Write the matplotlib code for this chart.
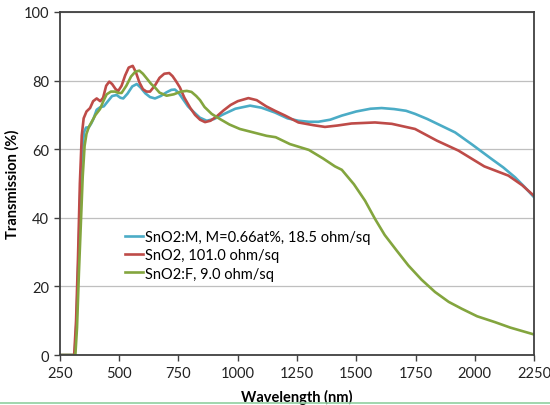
import matplotlib
matplotlib.use('Agg')
import matplotlib.pyplot as plt
from matplotlib.lines import Line2D

plt.rcParams['font.family'] = ['Lato', 'DejaVu Sans']

# SnO2:M, M=0.66at%, 18.5 ohm/sq
wl_m = [250, 312, 320, 328, 336, 344, 352, 360, 372, 382, 391, 405, 419, 435, 450,
        470, 489, 505, 517, 535, 555, 574, 590, 610, 630, 651, 675, 700, 720, 735,
        750, 770, 790, 812, 840, 869, 900, 940, 990, 1052, 1100, 1157, 1210, 1256,
        1300, 1340, 1390, 1439, 1500, 1560, 1607, 1660, 1710, 1748, 1800, 1860,
        1917, 1990, 2072, 2120, 2170, 2210, 2250]
t_m = [0, 0, 10, 28, 48, 60, 65, 66.3, 66.4, 67.5, 68.8, 71.5, 72.2, 72.5, 73.8,
       75.5, 75.8, 75, 74.8, 76.2, 78.3, 79, 78, 76.3, 75.2, 74.8, 75.5, 76.6, 77.3, 77.4,
       76.5, 74.5, 72.5, 71, 69.2, 68.3, 68.8, 70.2, 71.8, 72.7, 72.1, 70.7, 69, 68.3,
       68, 68, 68.6, 69.8, 71, 71.8, 72, 71.7, 71.2, 70.3, 68.8, 66.8,
       64.9, 61.3, 57.1, 54.7, 51.8, 49, 46]

# SnO2, 101.0 ohm/sq
wl_u = [250, 310, 318, 326, 334, 342, 350, 362, 377, 390, 405, 420, 432, 445, 458,
        470, 485, 496, 510, 525, 540, 557, 570, 585, 600, 615, 630, 650, 670, 690,
        711, 725, 740, 756, 775, 800, 820, 841, 862, 885, 910, 940, 970, 1000, 1045,
        1080, 1120, 1157, 1200, 1256, 1320, 1368, 1420, 1480, 1579, 1650, 1748,
        1840, 1931, 2040, 2142, 2200, 2250]
t_u = [0, 0, 10, 28, 50, 64, 69, 71, 72, 74, 74.8, 74, 75, 78.5, 79.7,
       79, 77.5, 77, 78.5, 81.5, 83.8, 84.3, 82.5, 79.5, 77.5, 76.8, 76.8, 78.5, 80.8, 82,
       82.2, 81.3, 79.8, 78, 75, 72, 70, 68.6, 67.9, 68.3, 69.5, 71.3, 72.9, 74, 74.9,
       74.3, 72.5, 71.2, 69.8, 67.8, 67, 66.5, 66.9, 67.5, 67.8, 67.4, 65.9,
       62.5, 59.6, 55, 52.3, 49.5, 46.4]

# SnO2:F, 9.0 ohm/sq
wl_f = [250, 315, 322, 330, 338, 346, 354, 362, 372, 384, 400, 419, 433, 447, 465,
        482, 497, 510, 530, 550, 568, 585, 600, 620, 635, 651, 670, 700, 730, 760,
        785, 805, 825, 841, 860, 890, 925, 965, 1009, 1060, 1122, 1160, 1220, 1300,
        1360, 1410, 1439, 1490, 1537, 1579, 1620, 1670, 1720, 1775, 1832, 1890,
        1945, 2010, 2085, 2150, 2200, 2250]
t_f = [0, 0, 8, 24, 38, 52, 61, 64.5, 66.5, 68, 70, 71.7, 74, 76, 76.8,
       76.8, 76.4, 76.4, 78.5, 81.2, 82.6, 82.9, 82, 80.3, 79, 78, 76.5, 75.6, 76, 76.8,
       77, 76.7, 75.5, 74.3, 72.3, 70.3, 68.8, 67.2, 65.9, 65, 63.9, 63.5, 61.5, 59.8,
       57.3, 55, 54, 49.8, 45, 39.7, 35, 30.5, 26.1, 22, 18.4, 15.5,
       13.5, 11.3, 9.6, 8, 7, 6]

labels = ['SnO2:M, M=0.66at%, 18.5 ohm/sq', 'SnO2, 101.0 ohm/sq', 'SnO2:F, 9.0 ohm/sq']
colors = ['#4BACC6', '#BE4B48', '#83A53E']
x_ticks = [250, 500, 750, 1000, 1250, 1500, 1750, 2000, 2250]
y_ticks = [0, 20, 40, 60, 80, 100]

fig = plt.figure(figsize=(5.5, 4.06), dpi=100)
ax = fig.add_axes([0.109, 0.123, 0.862, 0.845])

for wl, t, lab, col in zip([wl_m, wl_u, wl_f], [t_m, t_u, t_f], labels, colors):
    ax.plot(wl, t, color=col, lw=1.9, label=lab)

ax.set_xlim(250, 2250)
ax.set_ylim(0, 100)
ax.set_xticks(x_ticks)
ax.set_yticks(y_ticks)
ax.grid(axis='y', color='#BFBFBF', lw=0.9)
ax.set_axisbelow(True)
for s in ax.spines.values():
    s.set_color('#404040')
    s.set_linewidth(1.3)
ax.tick_params(direction='out', length=4, width=1, color='#404040',
               labelsize=10.5, labelcolor='#222222', pad=4)

ax.set_xlabel('Wavelength (nm)', fontsize=10.5, fontweight='bold', labelpad=6)
ax.set_ylabel('Transmission (%)', fontsize=10.5, fontweight='bold', labelpad=3)

ax.legend(loc='upper left', bbox_to_anchor=(0.137, 0.365), frameon=False,
          fontsize=10.5, handlelength=1.25, handletextpad=0.1, borderpad=0,
          labelspacing=0.3, borderaxespad=0)

# thin green strip at the bottom of the slide
fig.add_artist(Line2D([0, 1], [0.006, 0.006], transform=fig.transFigure,
                      color='#8FCFA0', lw=1.2))

fig.savefig('out.png', dpi=100)
